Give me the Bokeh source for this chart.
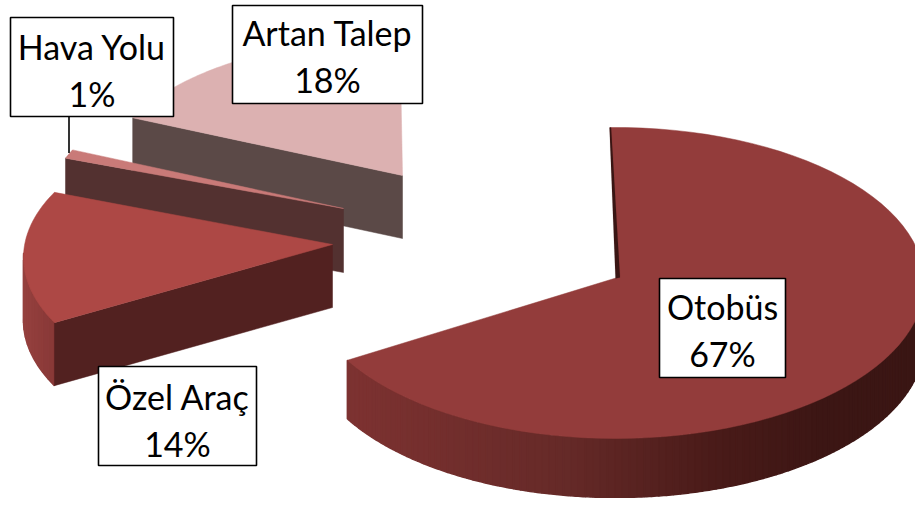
import math
from bokeh.plotting import figure
from bokeh.models import Range1d, ColumnDataSource
from bokeh.core.properties import value
from bokeh.embed import file_html
from bokeh.resources import INLINE

categories = ["Otobüs", "Özel Araç", "Hava Yolu", "Artan Talep"]
shares = [67, 14, 1, 18]

# layout: (ellipse cx, cy, a, b, apex x, apex y, phase, depth, b growth of lower rim)
GEOM = {
    "Otobüs": (615, 282.5, 309, 155.5, 617, 277, 0, 58, 1),
    "Özel Araç": (348, 257, 325, 153, 332, 244, -4.6, 63, 0),
    "Hava Yolu": (343, 208, 297, 143, 343, 208, 0, 64, 0),
    "Artan Talep": (402, 175, 297, 138, 402, 175, -0.5, 63, 0),
}
TOP = {"Otobüs": "#933c3b", "Özel Araç": "#ad4845", "Hava Yolu": "#c97a78", "Artan Talep": "#dcb1b1"}
CUT = {"Otobüs": "#3a1614", "Özel Araç": "#522120", "Hava Yolu": "#533130", "Artan Talep": "#5b4947"}
BOX = {
    "Otobüs": (659, 785, 278, 377, 306, 353),
    "Özel Araç": (98, 256, 366, 465, 396, 443),
    "Hava Yolu": (10, 173, 17, 116, 46, 93),
    "Artan Talep": (232, 422, 5, 103, 32, 79),
}
FONT = "Lato"
FONT_SIZE = "34px"
START = 91.0
OTO_STOPS = [(347, (0x7d, 0x32, 0x31)), (563, (0x66, 0x2a, 0x28)), (712, (0x4a, 0x1b, 0x19)), (823, (0x3c, 0x16, 0x14)), (924, (0x3a, 0x16, 0x14))]
OZEL_STOPS = [(23, (0x95, 0x40, 0x3e)), (57, (0x86, 0x37, 0x36))]


def angles():
    out, t = {}, START
    for c, s in zip(categories, shares):
        out[c] = (t, t - s * 3.6)
        t -= s * 3.6
    return out


def pt(c, deg, lower=False):
    cx, cy, a, b, _, _, ph, d, g = GEOM[c]
    r = math.radians(deg + ph)
    if lower:
        return cx + a * math.cos(r), cy + d - (b + g) * math.sin(r)
    return cx + a * math.cos(r), cy - b * math.sin(r)


def arc(c, t0, t1, n=80, lower=False):
    return [pt(c, t0 + (t1 - t0) * i / n, lower) for i in range(n + 1)]


def shade(stops, x):
    if x <= stops[0][0]:
        col = stops[0][1]
    elif x >= stops[-1][0]:
        col = stops[-1][1]
    else:
        for (x0, c0), (x1, c1) in zip(stops, stops[1:]):
            if x0 <= x <= x1:
                f = (x - x0) / (x1 - x0)
                col = tuple(round(u + (v - u) * f) for u, v in zip(c0, c1))
                break
    return "#%02x%02x%02x" % col


p = figure(width=915, height=498, output_backend="svg", toolbar_location=None,
           x_range=Range1d(0, 915), y_range=Range1d(498, 0), min_border=0,
           background_fill_color="white",
           border_fill_color="white", outline_line_color=None)
p.axis.visible = False
p.grid.visible = False


def poly(points, color, lw=0.5):
    p.patch([q[0] for q in points], [q[1] for q in points], fill_color=color, line_color=color, line_width=lw)


def cut_face(c, deg):
    ax, ay, d = GEOM[c][4], GEOM[c][5], GEOM[c][7]
    x, y = pt(c, deg)
    xl, yl = pt(c, deg, True)
    poly([(ax, ay), (x, y), (xl, yl), (ax, ay + d)], CUT[c])


def rim(c, t0, t1, stops, n):
    for i in range(n):
        u0 = t0 + (t1 - t0) * i / n
        u1 = t0 + (t1 - t0) * (i + 1) / n
        quad = arc(c, u0, u1, 3) + arc(c, u1, u0, 3, True)
        poly(quad, shade(stops, (quad[0][0] + quad[3][0]) / 2), 1.5)


def top_face(c, t0, t1):
    ax, ay = GEOM[c][4], GEOM[c][5]
    poly([(ax, ay)] + arc(c, t0, t1), TOP[c])


A = angles()

# back to front
c = "Artan Talep"
cut_face(c, A[c][0])
top_face(c, *A[c])

c = "Hava Yolu"
cut_face(c, A[c][0])
top_face(c, *A[c])

c = "Özel Araç"
rim(c, A[c][0], A[c][0] - 27, OZEL_STOPS, 10)
cut_face(c, A[c][0])
top_face(c, *A[c])

c = "Otobüs"
rim(c, A[c][1], 0, OTO_STOPS, 110)
top_face(c, *A[c])
sx, sy = pt(c, A[c][0])
ax, ay = GEOM[c][4], GEOM[c][5]
poly([(sx - 0.6, sy), (ax - 2, ay + 1), (ax + 2.5, ay), (sx + 1, sy)], CUT[c], 0.1)

# leader of the small slice
lx = (BOX["Hava Yolu"][0] + BOX["Hava Yolu"][1]) / 2 - 23
p.line([lx, lx], [BOX["Hava Yolu"][3], pt("Hava Yolu", A["Hava Yolu"][1])[1] + 3], line_color="black", line_width=1.6)

for c, s in zip(categories, shares):
    l, r, t, b, y1, y2 = BOX[c]
    p.quad(left=[l], right=[r], top=[t], bottom=[b], fill_color="white", line_color="black", line_width=1.6)
    src = ColumnDataSource(dict(x=[(l + r) / 2] * 2, y=[y1, y2], t=[c, f"{s}%"]))
    p.text("x", "y", text="t", source=src, text_align="center", text_baseline="middle",
           text_font=value(FONT), text_font_size=value(FONT_SIZE), text_color="black")

open("out.html", "w").write(file_html(p, INLINE))
